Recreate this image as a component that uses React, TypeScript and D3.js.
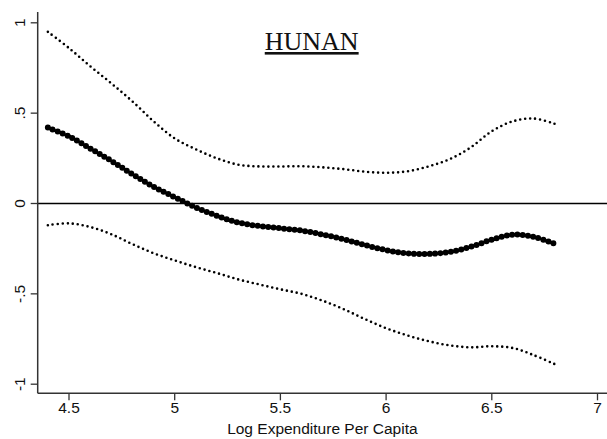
import React from "react";
import * as d3 from "d3";

const xs = [4.4, 4.5, 4.6, 4.7, 4.8, 4.9, 5.0, 5.1, 5.2, 5.3, 5.4, 5.5, 5.6, 5.7, 5.8, 5.9, 6.0, 6.1, 6.2, 6.3, 6.4, 6.5, 6.6, 6.7, 6.8];
const fit = [0.42, 0.372, 0.305, 0.236, 0.162, 0.093, 0.035, -0.022, -0.068, -0.105, -0.125, -0.137, -0.15, -0.172, -0.198, -0.23, -0.258, -0.276, -0.279, -0.268, -0.24, -0.2, -0.172, -0.185, -0.224];
const upper = [0.95, 0.86, 0.76, 0.665, 0.565, 0.455, 0.36, 0.3, 0.25, 0.215, 0.205, 0.205, 0.206, 0.2, 0.19, 0.176, 0.17, 0.178, 0.205, 0.245, 0.31, 0.4, 0.455, 0.47, 0.44];
const lower = [-0.12, -0.11, -0.13, -0.17, -0.225, -0.275, -0.315, -0.352, -0.385, -0.42, -0.448, -0.475, -0.5, -0.538, -0.585, -0.64, -0.69, -0.73, -0.762, -0.785, -0.796, -0.79, -0.8, -0.84, -0.89];
const xTicks = [4.5, 5, 5.5, 6, 6.5, 7];
const xTickLabels = ["4.5", "5", "5.5", "6", "6.5", "7"];
const yTicks = [-1, -0.5, 0, 0.5, 1];
const yTickLabels = ["-1", "-.5", "0", ".5", "1"];
const title = "HUNAN";
const xTitle = "Log Expenditure Per Capita";

export default function App() {
  const W = 607, H = 439;
  const x = d3.scaleLinear().domain([4.5, 7]).range([69, 597.5]);
  const y = d3.scaleLinear().domain([-1, 1]).range([384.2, 22.8]);
  const axX = 37.7, axY = 393.3;
  const line = (vals: number[]) =>
    d3.line<number>()
      .x((_, i) => x(xs[i]))
      .y((v) => y(v))
      .curve(d3.curveCatmullRom.alpha(0.5))(vals) || "";
  const font = "Arial, 'Liberation Sans', sans-serif";
  return (
    <svg width={W} height={H} style={{ position: "absolute", left: 0, top: 0, background: "#fff" }}>
      <rect x={0} y={0} width={W} height={H} fill="#fff" />
      {/* zero line */}
      <line x1={axX} x2={W} y1={y(0)} y2={y(0)} stroke="#000" strokeWidth={1.4} />
      {/* axes */}
      <line x1={axX} x2={axX} y1={12} y2={axY} stroke="#333" strokeWidth={1.5} />
      <line x1={axX} x2={W} y1={axY} y2={axY} stroke="#333" strokeWidth={1.5} />
      {yTicks.map((t, i) => (
        <g key={"y" + i}>
          <line x1={axX - 7} x2={axX} y1={y(t)} y2={y(t)} stroke="#333" strokeWidth={1.3} />
          <text
            transform={`translate(${axX - 13},${y(t)}) rotate(-90)`}
            textAnchor="middle"
            fontFamily={font}
            fontSize={15.5}
            fill="#111"
          >
            {yTickLabels[i]}
          </text>
        </g>
      ))}
      {xTicks.map((t, i) => (
        <g key={"x" + i}>
          <line x1={x(t)} x2={x(t)} y1={axY} y2={axY + 7} stroke="#333" strokeWidth={1.3} />
          <text x={x(t)} y={413} textAnchor="middle" fontFamily={font} fontSize={15.5} fill="#111">
            {xTickLabels[i]}
          </text>
        </g>
      ))}
      <text x={(axX + W) / 2} y={434} textAnchor="middle" fontFamily={font} fontSize={15.5} fill="#111">
        {xTitle}
      </text>
      <text
        x={311.7}
        y={50}
        textAnchor="middle"
        fontFamily="'Liberation Serif', 'Times New Roman', serif"
        fontSize={26}
        fill="#111"
        textDecoration="underline"
      >
        {title}
      </text>
      {/* CI lines */}
      <path d={line(upper)} fill="none" stroke="#000" strokeWidth={2.6} strokeLinecap="round" strokeDasharray="0 5" />
      <path d={line(lower)} fill="none" stroke="#000" strokeWidth={2.6} strokeLinecap="round" strokeDasharray="0 5" />
      {/* fitted line */}
      <path d={line(fit)} fill="none" stroke="#000" strokeWidth={6} strokeLinecap="round" strokeDasharray="0 5.3" />
    </svg>
  );
}
